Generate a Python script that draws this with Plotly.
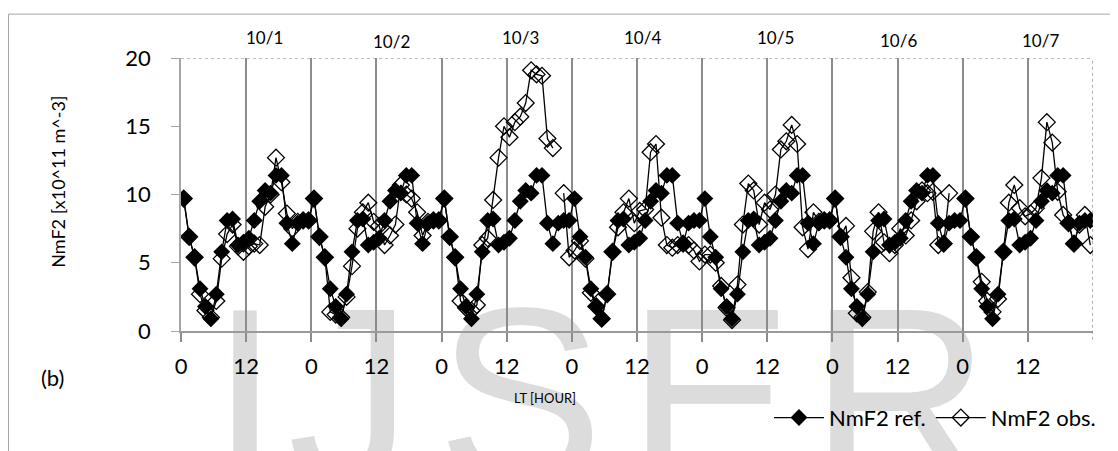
import plotly.graph_objects as go

# ---------------- data ----------------
lt_hours = list(range(24))  # hourly samples within each day (LT)
days = ["10/1", "10/2", "10/3", "10/4", "10/5", "10/6", "10/7"]

ref_d1 = [9.7, 6.9, 5.4, 3.1, 1.8, 0.9, 2.7, 5.8, 8.1, 8.2, 6.3, 6.5, 6.8, 8.1, 9.5, 10.3, 10.1, 11.4, 11.4, 7.9, 6.4, 7.9, 8.1, 8.1]
ref_d2 = [9.7, 6.9, 5.4, 3.1, 1.8, 0.9, 2.7, 5.8, 8.1, 8.2, 6.3, 6.5, 6.8, 8.1, 9.5, 10.3, 10.1, 11.4, 11.4, 7.9, 6.4, 7.9, 8.1, 8.1]
ref_d3 = [9.7, 6.9, 5.4, 3.1, 1.8, 0.9, 2.7, 5.8, 8.1, 8.2, 6.3, 6.5, 6.8, 8.1, 9.5, 10.3, 10.1, 11.4, 11.4, 7.9, 6.4, 7.9, 8.1, 8.1]
ref_d4 = [9.7, 6.9, 5.4, 3.1, 1.8, 0.9, 2.7, 5.8, 8.1, 8.2, 6.3, 6.5, 6.8, 8.1, 9.5, 10.3, 10.1, 11.4, 11.4, 7.9, 6.4, 7.9, 8.1, 8.1]
ref_d5 = [9.7, 6.9, 5.4, 3.1, 1.8, 0.9, 2.7, 5.8, 8.1, 8.2, 6.3, 6.5, 6.8, 8.1, 9.5, 10.3, 10.1, 11.4, 11.4, 7.9, 6.4, 7.9, 8.1, 8.1]
ref_d6 = [9.7, 6.9, 5.4, 3.1, 1.8, 0.9, 2.7, 5.8, 8.1, 8.2, 6.3, 6.5, 6.8, 8.1, 9.5, 10.3, 10.1, 11.4, 11.4, 7.9, 6.4, 7.9, 8.1, 8.1]
ref_d7 = [9.7, 6.9, 5.4, 3.1, 1.8, 0.9, 2.7, 5.8, 8.1, 8.2, 6.3, 6.5, 6.8, 8.1, 9.5, 10.3, 10.1, 11.4, 11.4, 7.9, 6.4, 7.9, 8.1, 8.1]

obs_d1 = [9.7, 6.9, 5.4, 2.7, 1.5, 1.0, 2.2, 5.3, 7.1, 7.8, 6.2, 5.8, 6.2, 6.4, 6.3, 9.1, 10.0, 12.7, 10.9, 8.6, 7.5, 8.0, 8.1, 8.1]
obs_d2 = [9.7, 6.9, 5.4, 1.4, 1.2, 1.0, 2.5, 4.75, 7.5, 8.7, 9.4, 8.0, 7.7, 6.3, 7.0, 7.8, 10.7, 10.0, 9.7, 8.7, 7.0, 8.0, 8.1, 8.1]
obs_d3 = [9.7, 6.9, 5.4, 2.2, 1.7, 1.5, 1.9, 6.3, 6.8, 9.6, 12.7, 15.0, 14.2, 15.3, 15.7, 16.7, 19.1, 18.8, 18.7, 14.1, 13.4, None, 10.1, 5.4]
obs_d4 = [5.9, 6.6, 5.3, 2.8, 1.8, 0.9, 2.7, 5.8, 7.6, 8.7, 9.7, 7.9, 8.8, 8.9, 13.1, 13.7, 8.3, 6.3, 6.1, 6.3, 6.4, 6.3, 5.9, 5.1]
obs_d5 = [5.6, 5.6, 5.0, 3.3, 1.7, 0.8, 3.4, 7.8, 10.8, 10.3, 7.8, 9.4, 8.9, 10.0, 13.3, 13.9, 15.1, 13.7, 7.6, 6.0, 8.7, 8.0, 8.1, 8.1]
obs_d6 = [9.7, 6.9, 7.7, 3.9, 1.3, 1.0, 2.85, 7.3, 8.7, 6.5, 5.7, 6.3, 7.5, 7.0, 8.1, 9.5, 10.3, 10.1, 10.2, 6.3, 6.4, 10.1, None, None]
obs_d7 = [9.7, 6.9, 5.4, 3.6, 2.2, 1.4, 2.35, 5.8, 9.4, 10.7, 9.0, 8.4, 8.6, 9.0, 11.2, 15.3, 13.8, 10.2, 8.5, 7.9, 6.4, 7.8, 8.5, 6.3]

tick_vals = [0, 12, 24, 36, 48, 60, 72, 84, 96, 108, 120, 132, 144, 156]
tick_text = ["0", "12", "0", "12", "0", "12", "0", "12", "0", "12", "0", "12", "0", "12"]
y_ticks = [0, 5, 10, 15, 20]

# ---------------- build series ----------------
ref_days = [ref_d1, ref_d2, ref_d3, ref_d4, ref_d5, ref_d6, ref_d7]
obs_days = [obs_d1, obs_d2, obs_d3, obs_d4, obs_d5, obs_d6, obs_d7]

x_vals, ref_vals, obs_vals = [], [], []
for d in range(len(days)):
    for h in lt_hours:
        x_vals.append(24 * d + h + 0.5)   # hourly bins, point at bin centre
    ref_vals.extend(ref_days[d])
    obs_vals.extend(obs_days[d])

FONT = "Lato"

fig = go.Figure()
fig.add_trace(go.Scatter(
    x=x_vals, y=ref_vals, mode="lines+markers", name="NmF2 ref.",
    line=dict(color="black", width=1.3),
    marker=dict(symbol="diamond", size=13, color="black"),
))
fig.add_trace(go.Scatter(
    x=x_vals, y=obs_vals, mode="lines+markers", name="NmF2 obs.",
    line=dict(color="black", width=1.3),
    marker=dict(symbol="diamond-open", size=13, color="black", line=dict(width=1.3)),
))

# page offset (default body margin of the html page)
OFF = 8
W, H = 1118 - OFF, 451 - OFF
L, T = 181 - OFF, 58 - OFF
PW, PH = 912, 280
R = W - L - PW
B = H - T - PH


def px_x(page_x):
    return (page_x - OFF - L) / PW


def px_y(page_y):
    return (T + PH - (page_y - OFF)) / PH


shapes = []
# outer frame
shapes.append(dict(type="rect", xref="paper", yref="paper",
                   x0=px_x(8.5), x1=px_x(1130), y0=px_y(480), y1=px_y(13),
                   line=dict(color="#a6a6a6", width=1), layer="below"))
# watermark letters of the source page (behind everything)
WM_SIZE = 250
for letter, cx in zip(["I", "J", "S", "E", "R"], [245, 350, 520, 710, 900]):
    shapes.append(dict(type="rect", xref="paper", yref="paper",
                       x0=px_x(cx - 100), x1=px_x(cx + 100), y0=px_y(520),
                       y1=px_y(309 - 0.298 * WM_SIZE),
                       line=dict(width=0), fillcolor="rgba(0,0,0,0)", layer="below",
                       label=dict(text=letter, textposition="top center",
                                  font=dict(family="Liberation Sans", size=WM_SIZE,
                                            color="#dcdcdc"))))
# dotted top and right border
shapes.append(dict(type="line", xref="x", yref="y", x0=0, x1=168, y0=20, y1=20,
                   line=dict(color="#7f7f7f", width=1, dash="dot")))
shapes.append(dict(type="line", xref="x", yref="paper", x0=168, x1=168, y0=-9 / PH, y1=1,
                   line=dict(color="#7f7f7f", width=1.2, dash="dot")))

annotations = []
date_pos = [15.3, 38.8, 62.6, 85.0, 109.6, 132.1, 158.3]
date_py = [37, 41, 37, 37, 37, 40, 40]
for lab, xp, yp in zip(days, date_pos, date_py):
    annotations.append(dict(text=lab, x=xp, y=px_y(yp), xref="x", yref="paper",
                            showarrow=False, font=dict(family=FONT, size=17, color="black"),
                            xanchor="center", yanchor="middle"))
annotations.append(dict(text="NmF2 [x10^11 m^-3]", textangle=-90, x=px_x(58), y=px_y(185),
                        xref="paper", yref="paper", showarrow=False,
                        font=dict(family=FONT, size=18, color="black"),
                        xanchor="center", yanchor="middle"))
annotations.append(dict(text="(b)", x=px_x(52), y=px_y(386), xref="paper", yref="paper",
                        showarrow=False, font=dict(family=FONT, size=22, color="black"),
                        xanchor="center", yanchor="middle"))
annotations.append(dict(text="LT [HOUR]", x=px_x(545), y=px_y(407), xref="paper", yref="paper",
                        showarrow=False, font=dict(family=FONT, size=13, color="black"),
                        xanchor="center", yanchor="middle"))

fig.update_layout(
    width=W, height=H,
    margin=dict(l=L, r=R, t=T, b=B, pad=0),
    paper_bgcolor="white", plot_bgcolor="rgba(0,0,0,0)",
    font=dict(family=FONT, size=22, color="black"),
    shapes=shapes, annotations=annotations,
    showlegend=True,
    legend=dict(orientation="h", x=px_x(1101), xanchor="right", y=px_y(427), yanchor="middle",
                font=dict(family=FONT, size=22, color="black"), itemwidth=50,
                bgcolor="rgba(0,0,0,0)", traceorder="normal"),
)
fig.update_xaxes(
    range=[0, 168], tickmode="array", tickvals=tick_vals, ticktext=tick_text,
    showgrid=True, gridcolor="#8c8c8c", gridwidth=1.5,
    showline=True, linecolor="#9a9a9a", linewidth=1.5,
    ticks="outside", ticklen=9, tickcolor="#8c8c8c", tickwidth=1.5,
    ticklabelstandoff=6, zeroline=False,
    tickfont=dict(family=FONT, size=22, color="black"),
)
fig.update_yaxes(
    range=[0, 20], tickmode="array", tickvals=y_ticks,
    showgrid=False, zeroline=False,
    showline=True, linecolor="#a6a6a6", linewidth=1.5,
    ticks="outside", ticklen=8, tickcolor="#a6a6a6", tickwidth=1.2,
    ticklabelstandoff=16,
    tickfont=dict(family=FONT, size=22, color="black"),
)

fig.write_html("out.html")
